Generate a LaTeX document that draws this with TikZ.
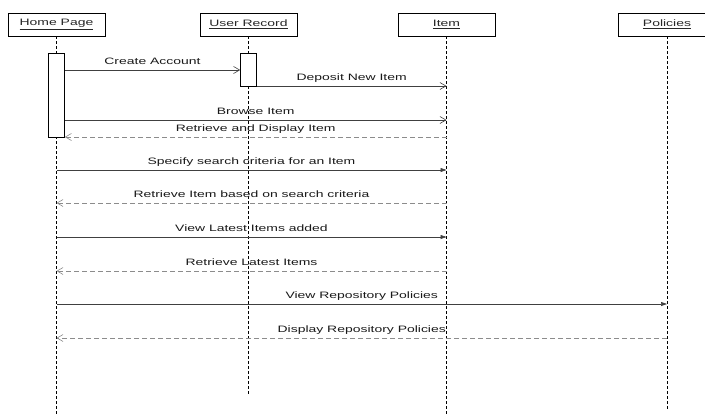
\documentclass[tikz,border=0pt]{standalone}
\usepackage{fontspec}
\newfontfamily\umlfont[FakeStretch=1.5]{Liberation Sans}
\usetikzlibrary{arrows.meta}

\begin{document}
\begin{tikzpicture}[x=1pt, y=-1pt,
    every node/.style={font=\umlfont\fontsize{9.3}{11}\selectfont},
    head/.style={draw, line width=0.6pt, fill=white, minimum width=97pt, minimum height=23pt, inner sep=0pt, text=black!85},
    life/.style={line width=0.6pt, dash pattern=on 3pt off 2pt},
    act/.style={draw, line width=0.6pt, fill=white, minimum width=16pt, inner sep=0pt},
    call/.style={line width=0.6pt, black!75, -{Straight Barb[length=6pt, width=7pt]}},
    sync/.style={line width=0.6pt, black!75, -{Triangle[length=6pt, width=4pt]}},
    reply/.style={line width=0.6pt, black!45, dash pattern=on 5pt off 3pt, -{Straight Barb[length=6pt, width=7pt]}},
    lbl/.style={anchor=base, yshift=6pt, inner sep=0pt, text=black!90}]

    \useasboundingbox (0,0) rectangle (705,416);

    % objects
    \node [head] (home) at (56.5,24.5) {\underline{Home Page}};
    \node [head] (user) at (248.5,24.5) {\underline{User Record}};
    \node [head] (item) at (446.5,24.5) {\underline{Item}};
    \node [head] (policy) at (667,24.5) {\underline{Policies}};

    % lifelines
    \draw [life] (home) -- (home |- 0,416);
    \draw [life] (user) -- (user |- 0,395);
    \draw [life] (item) -- (item |- 0,416);
    \draw [life] (policy) -- (policy |- 0,409);

    % activations
    \node [act, minimum height=84pt] (homeAct) at (home |- 0,95) {};
    \node [act, minimum height=33pt] (userAct) at (user |- 0,69.5) {};

    % messages
    \draw [call] (homeAct.east |- 0,70) -- node [lbl] {Create Account} (userAct.west |- 0,70);
    \draw [call] (userAct.east |- 0,86) -- node [lbl] {Deposit New Item} (item |- 0,86);
    \draw [call] (homeAct.east |- 0,120) -- node [lbl] {Browse Item} (item |- 0,120);
    \draw [reply] (item |- 0,137) -- node [lbl] {Retrieve and Display Item} (homeAct.east |- 0,137);
    \draw [sync] (home |- 0,170) -- node [lbl] {Specify search criteria for an Item} (item |- 0,170);
    \draw [reply] (item |- 0,203) -- node [lbl] {Retrieve Item based on search criteria} (home |- 0,203);
    \draw [sync] (home |- 0,237) -- node [lbl] {View Latest Items added} (item |- 0,237);
    \draw [reply] (item |- 0,271) -- node [lbl] {Retrieve Latest Items} (home |- 0,271);
    \draw [sync] (home |- 0,304) -- node [lbl] {View Repository Policies} (policy |- 0,304);
    \draw [reply] (policy |- 0,338) -- node [lbl] {Display Repository Policies} (home |- 0,338);
\end{tikzpicture}
\end{document}
